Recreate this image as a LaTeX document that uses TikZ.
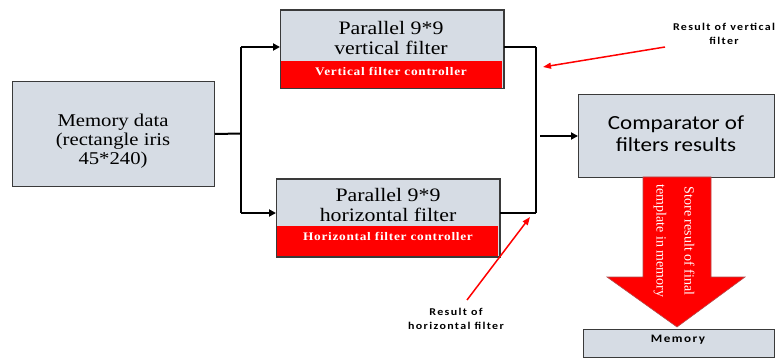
\documentclass[tikz,border=0pt]{standalone}
\usepackage{fontspec}
\setmainfont{Liberation Serif}[FakeStretch=1.15]
\newfontfamily\ctlfont{Liberation Serif}[FakeStretch=1.15,LetterSpace=6]
\newfontfamily\cmpfont{Carlito}[FakeStretch=1.15]
\newfontfamily\lblfont{Carlito}[FakeStretch=1.15,LetterSpace=13]
\newfontfamily\rotfont{Liberation Serif}
\usetikzlibrary{arrows.meta}
\definecolor{boxgray}{HTML}{D6DCE4}
\definecolor{boxline}{HTML}{3A3A3A}
\definecolor{pred}{HTML}{FF0000}
\begin{document}
\begin{tikzpicture}[x=1pt,y=-1pt,
  box/.style={draw=boxline,line width=1pt,fill=boxgray,inner sep=0pt,anchor=north west},
  band/.style={fill=pred,inner sep=0pt,anchor=north west},
  conn/.style={line width=2pt,black},
  tip/.style={-{Triangle[length=7pt,width=7pt]}},
  note/.style={pred,line width=1.5pt,-{Triangle[length=8pt,width=6pt]}},
  lbl/.style={font=\lblfont\bfseries\fontsize{10.4}{14.5}\selectfont,align=center,inner sep=0pt},
  serif/.style={font=\fontsize{19}{20}\selectfont,align=center,inner sep=0pt},
  ctl/.style={font=\ctlfont\bfseries\fontsize{11.6}{13}\selectfont,text=white,inner sep=0pt},
]
\useasboundingbox (0,0) rectangle (781,358);

% Memory data
\node[box,minimum width=202pt,minimum height=105pt] (md) at (12,81) {};
\node[font=\fontsize{18}{19}\selectfont,align=center,inner sep=0pt] (mdt) at (113,141) {Memory data\\(rectangle iris\\45*240)};

% vertical filter
\node[box,minimum width=223pt,minimum height=78pt] (vf) at (280,10) {};
\node[band,minimum width=221pt,minimum height=27pt] (vfb) at (281,61) {};
\draw[boxline,line width=1pt] (vf.north west) rectangle (vf.south east);
\node[serif] (vft) at (391,38) {Parallel 9*9\\vertical filter};
\node[ctl] (vfc) at (391,72) {Vertical filter controller};

% horizontal filter
\node[box,minimum width=223pt,minimum height=77pt] (hf) at (276,179) {};
\node[band,minimum width=221pt,minimum height=30pt] (hfb) at (277,226) {};
\draw[boxline,line width=1pt] (hf.north west) rectangle (hf.south east);
\node[serif] (hft) at (388,205) {Parallel 9*9\\horizontal filter};
\node[ctl] (hfc) at (388,236) {Horizontal filter controller};

% comparator
\node[box,minimum width=196pt,minimum height=83pt] (cmp) at (578,94) {};
\node[font=\cmpfont\fontsize{20}{22}\selectfont,align=center,inner sep=0pt] (cmpt) at (676,134) {Comparator of\\filters results};

% memory
\node[box,minimum width=191pt,minimum height=28pt] (mem) at (583,329) {};
\node[font=\lblfont\bfseries\fontsize{11.4}{13}\selectfont,inner sep=0pt] (memt) at (678,340) {Memory};

% left connectors
\coordinate (j) at (241,133.5);
\coordinate (ja) at (241,47);
\coordinate (jb) at (241,213);
\draw[conn] (md.east) -- (j);
\draw[conn] (ja) -- (jb);
\draw[conn,tip] (ja) -- (ja -| vf.west);
\draw[conn,tip] (jb) -- (jb -| hf.west);

% right connectors
\coordinate (ra) at (536,47);
\coordinate (rb) at (536,213);
\draw[conn] (ra -| vf.east) -- (ra);
\draw[conn] (rb -| hf.east) -- (rb);
\draw[line width=2.5pt] (ra) -- (rb);
\coordinate (rc) at (540,136);
\draw[conn,tip] (rc) -- (rc -| cmp.west);

% labels and red arrows
\node[lbl] (lv) at (724,34) {Result of vertical\\filter};
\node[lbl] (lh) at (456,319) {Result of\\horizontal filter};
\coordinate (lvt) at (665,47);
\coordinate (lvh) at (543,67);
\draw[note] (lvt) -- (lvh);
\coordinate (lht) at (467,300);
\coordinate (lhh) at (530,217);
\draw[note] (lht) -- (lhh);

% big arrow
\draw[fill=pred,draw=gray!60!red,line width=0.6pt]
  (643,177) -- (711,177) -- (711,277) -- (745,277) -- (677,327) -- (607,277) -- (643,277) -- cycle;
\node[rotate=-90,font=\rotfont\fontsize{14}{28}\selectfont,text=white,align=center,inner sep=0pt] (st) at (674,241) {Store result of final\\template in memory};
\end{tikzpicture}
\end{document}
